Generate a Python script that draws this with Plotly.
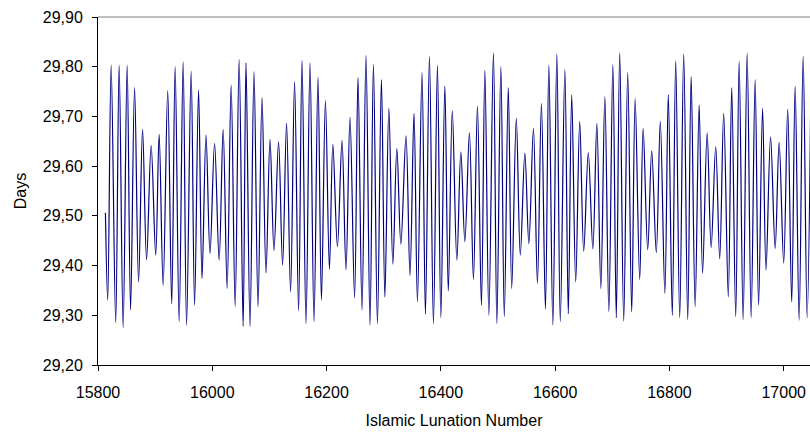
import plotly.graph_objects as go

# Islamic lunation numbers at the turning points of the lunation-length curve
lunation = [
    15813, 15817, 15823, 15831, 15837, 15844, 15851, 15857, 15864, 15871,
    15878, 15885, 15893, 15901, 15907, 15914, 15922, 15929, 15935, 15942,
    15949, 15955, 15963, 15969, 15976, 15982, 15989, 15996, 16004, 16012,
    16019, 16026, 16033, 16040, 16047, 16054, 16059, 16066, 16073, 16080,
    16087, 16094, 16101, 16108, 16116, 16123, 16130, 16137, 16144, 16151,
    16157, 16164, 16171, 16178, 16185, 16191, 16198, 16205, 16211, 16219,
    16227, 16234, 16241, 16249, 16255, 16262, 16269, 16276, 16282, 16289,
    16296, 16302, 16309, 16316, 16323, 16330, 16339, 16346, 16353, 16359,
    16367, 16373, 16380, 16387, 16394, 16400, 16407, 16413, 16420, 16428,
    16435, 16442, 16450, 16457, 16464, 16471, 16477, 16484, 16492, 16498,
    16505, 16511, 16518, 16524, 16532, 16539, 16547, 16554, 16562, 16569,
    16576, 16583, 16589, 16596, 16603, 16609, 16617, 16623, 16629, 16636,
    16643, 16650, 16658, 16666, 16673, 16680, 16687, 16694, 16701, 16707,
    16713, 16720, 16727, 16734, 16740, 16748, 16754, 16762, 16769, 16777,
    16784, 16792, 16798, 16805, 16811, 16818, 16825, 16832, 16838, 16845,
    16852, 16858, 16866, 16873, 16881, 16888, 16895, 16903, 16909, 16916,
    16922, 16929, 16936, 16943, 16950, 16956, 16963, 16969, 16977, 16985,
    16992, 17000, 17007, 17014, 17020, 17027, 17034, 17041, 17048,
]

# Length of each lunation in days
days = [
    29.506, 29.330, 29.803, 29.285, 29.803, 29.275, 29.803, 29.311, 29.758, 29.367,
    29.674, 29.412, 29.642, 29.421, 29.664, 29.360, 29.752, 29.323, 29.800, 29.287,
    29.810, 29.280, 29.791, 29.320, 29.753, 29.374, 29.663, 29.424, 29.646, 29.411,
    29.674, 29.354, 29.763, 29.318, 29.815, 29.278, 29.808, 29.277, 29.790, 29.317,
    29.738, 29.385, 29.654, 29.430, 29.649, 29.401, 29.686, 29.347, 29.770, 29.309,
    29.813, 29.283, 29.808, 29.287, 29.779, 29.331, 29.732, 29.393, 29.644, 29.438,
    29.652, 29.392, 29.698, 29.335, 29.778, 29.310, 29.823, 29.280, 29.805, 29.283,
    29.774, 29.337, 29.716, 29.403, 29.636, 29.443, 29.661, 29.380, 29.706, 29.327,
    29.788, 29.302, 29.821, 29.283, 29.803, 29.295, 29.761, 29.349, 29.711, 29.411,
    29.629, 29.448, 29.667, 29.372, 29.721, 29.320, 29.793, 29.300, 29.828, 29.283,
    29.800, 29.297, 29.758, 29.354, 29.696, 29.421, 29.626, 29.444, 29.676, 29.364,
    29.726, 29.313, 29.803, 29.280, 29.826, 29.287, 29.794, 29.303, 29.743, 29.367,
    29.690, 29.429, 29.627, 29.434, 29.686, 29.354, 29.740, 29.307, 29.805, 29.295,
    29.828, 29.288, 29.788, 29.307, 29.736, 29.372, 29.676, 29.432, 29.631, 29.426,
    29.690, 29.344, 29.744, 29.300, 29.812, 29.295, 29.826, 29.291, 29.780, 29.317,
    29.723, 29.385, 29.667, 29.436, 29.639, 29.414, 29.706, 29.337, 29.758, 29.297,
    29.811, 29.291, 29.827, 29.295, 29.774, 29.320, 29.716, 29.391, 29.659, 29.434,
    29.648, 29.405, 29.714, 29.327, 29.761, 29.290, 29.821, 29.295, 29.810,
]

x_ticks = [15800, 16000, 16200, 16400, 16600, 16800, 17000]
y_ticks = [29.2, 29.3, 29.4, 29.5, 29.6, 29.7, 29.8, 29.9]

assert len(lunation) == len(days)

FONT = "Liberation Sans, Arial, sans-serif"

fig = go.Figure(
    go.Scatter(
        x=lunation,
        y=days,
        mode="lines",
        line=dict(color="#000080", width=1.2, shape="spline", smoothing=1),
        hoverinfo="x+y",
    )
)

fig.update_layout(
    width=810,
    height=439,
    margin=dict(l=98, r=0, t=17, b=74),
    paper_bgcolor="white",
    plot_bgcolor="white",
    showlegend=False,
    separators=", ",
    font=dict(family=FONT, size=16, color="black"),
)

fig.update_xaxes(
    range=[15800, 17046],
    tickvals=x_ticks,
    tickformat="d",
    ticks="outside",
    ticklen=5,
    tickcolor="#000000",
    ticklabelstandoff=8,
    showline=True,
    linecolor="#000000",
    linewidth=1,
    mirror=False,
    showgrid=False,
    zeroline=False,
    title=dict(text="Islamic Lunation Number", font=dict(family=FONT, size=16), standoff=14),
)

fig.update_yaxes(
    range=[29.2, 29.9],
    tickvals=y_ticks,
    tickformat=".2f",
    ticks="outside",
    ticklen=5,
    tickcolor="#000000",
    ticklabelstandoff=6,
    showline=True,
    linecolor="#000000",
    linewidth=1,
    showgrid=False,
    zeroline=False,
    title=dict(text="Days", font=dict(family=FONT, size=16), standoff=12),
)

# Thin grey frame line across the top of the plot area
fig.add_shape(
    type="line", xref="paper", yref="paper",
    x0=0, x1=1, y0=1, y1=1,
    line=dict(color="#808080", width=1),
)

fig.write_html("out.html")
